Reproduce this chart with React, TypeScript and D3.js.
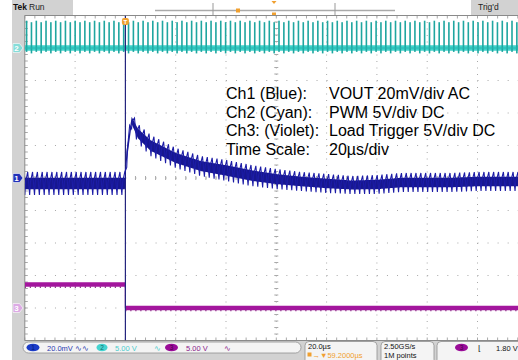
import React from "react";
import * as d3 from "d3";

// ---- data (read from the scope capture) ----
const timeDomainUs = [-40, 160]; // 10 divisions of 20 µs, trigger 2 div from left
const vertDivs = [-5, 5];
const ch1OffsetDiv = 0;
const ch2OffsetDiv = 4;
const ch3OffsetDiv = -4;
const ch1MvPerDiv = 20;
const ch2VPerDiv = 5;
const ch3VPerDiv = 5;

const ch1TimesUs = [-40, -0.2, 0.4, 2.5, 5, 10, 20, 30, 40, 50, 60, 70, 80, 90, 100, 110, 120, 130, 140, 160];
const ch1UpperMv = [3.7, 3.7, 20.3, 40.0, 33.2, 26.5, 18.5, 13.5, 11.1, 8.0, 5.5, 3.7, 2.5, 1.2, 1.8, 3.1, 3.1, 3.1, 3.7, 3.7];
const ch1LowerMv = [-10.5, -10.5, 4.9, 30.8, 21.5, 13.5, 6.2, 1.2, -1.8, -4.9, -6.8, -8.0, -9.2, -9.8, -9.8, -8.6, -8.6, -8.6, -8.0, -8.0];
const ripplePeriodUs = 1.93;

const pwmHighV = 4.2;
const pwmLowV = 0;
const pwmPeriodUs = 1.93;

const ch3TimesUs = [-40, 0, 0, 160];
const ch3Volts = [3.6, 3.6, 0, 0];

const legendLabels = ["Ch1 (Blue):", "Ch2 (Cyan):", "Ch3: (Violet):", "Time Scale:"];
const legendValues = ["VOUT 20mV/div AC", "PWM 5V/div DC", "Load Trigger 5V/div DC", "20µs/div"];

// ---- layout ----
const W = 518, H = 360;
const PL = 24.8, PT = 15.5, DW = 50.3, DH = 32.5;
const PR = PL + 10 * DW, PB = PT + 10 * DH;

const x = d3.scaleLinear().domain(timeDomainUs).range([PL, PR]);
const yDiv = d3.scaleLinear().domain(vertDivs).range([PB, PT]);
const y1 = (mv: number) => yDiv(mv / ch1MvPerDiv + ch1OffsetDiv);
const y2 = (v: number) => yDiv(v / ch2VPerDiv + ch2OffsetDiv);
const y3 = (v: number) => yDiv(v / ch3VPerDiv + ch3OffsetDiv);

const upperAt = d3.scaleLinear().domain(ch1TimesUs).range(ch1UpperMv).clamp(true);
const lowerAt = d3.scaleLinear().domain(ch1TimesUs).range(ch1LowerMv).clamp(true);

const GRAY = "#d2d2d2";
const GRID = "#a9a9a9";
const FONT = "'Liberation Sans', Arial, sans-serif";

export default function App() {
  // ripple zigzag for ch1
  const zig: [number, number][] = [];
  for (let t = timeDomainUs[0]; t <= timeDomainUs[1]; t += ripplePeriodUs) {
    zig.push([x(t), y1(lowerAt(t))]);
    const tm = t + ripplePeriodUs * 0.15;
    zig.push([x(tm), y1(lowerAt(tm) + 0.55 * (upperAt(tm) - lowerAt(tm)))]);
    const tp = t + ripplePeriodUs * 0.6;
    zig.push([x(tp), y1(upperAt(tp))]);
  }
  const zigPath = d3.line()(zig) || "";
  const coreArea = d3
    .area<number>()
    .x((t) => x(t))
    .y0((t) => {
      const u = upperAt(t), l = lowerAt(t);
      return y1(l + 0.25 * (u - l));
    })
    .y1((t) => {
      const u = upperAt(t), l = lowerAt(t);
      return y1(u - 0.25 * (u - l));
    });
  const denseT = d3.range(timeDomainUs[0], timeDomainUs[1] + 0.1, 0.25);
  denseT.push(...ch1TimesUs);
  denseT.sort((a, b) => a - b);

  // PWM pulses
  const pulses: number[] = [];
  for (let t = timeDomainUs[0] + 0.4; t <= timeDomainUs[1]; t += pwmPeriodUs) pulses.push(t);

  // ch3 levels as horizontal segments, thin edge between
  const ch3Segs: [number, number, number][] = [];
  for (let i = 0; i < ch3TimesUs.length - 1; i++) {
    if (ch3Volts[i] === ch3Volts[i + 1]) ch3Segs.push([ch3TimesUs[i], ch3TimesUs[i + 1], ch3Volts[i]]);
  }

  // grid
  const vLines = d3.range(1, 10).map((i) => PL + i * DW);
  const hLines = d3.range(1, 10).map((i) => PT + i * DH);
  const cx = PL + 5 * DW, cy = PT + 5 * DH;
  const hTicks = d3.range(0, 51).map((i) => PL + (i * DW) / 5);
  const vTicks = d3.range(0, 51).map((i) => PT + (i * DH) / 5);

  const marker = (c: number, fill: string, label: string, tc: string) => (
    <g>
      <path d={`M13,${c - 4.5} L19.5,${c - 4.5} L23,${c} L19.5,${c + 4.5} L13,${c + 4.5} Z`} fill={fill} stroke="#fff" strokeWidth={0.6} />
      <text x={16.5} y={c + 3} fontSize={8} fontFamily={FONT} fontWeight="bold" fill={tc} textAnchor="middle">{label}</text>
    </g>
  );

  return (
    <svg width={W} height={H} style={{ position: "absolute", left: 0, top: 0, background: "#fff" }}>
      <defs>
        <clipPath id="plot">
          <rect x={PL} y={PT} width={PR - PL} height={PB - PT} />
        </clipPath>
      </defs>
      {/* frame backgrounds */}
      <rect x={12} y={0} width={W - 12} height={H} fill={GRAY} />
      <rect x={73} y={0} width={398} height={PT} fill="#fff" />
      <rect x={PL} y={PT} width={W - PL} height={PB - PT} fill="#fff" />

      {/* top bar */}
      <text x={13} y={10} fontSize={8.5} fontFamily={FONT} fontWeight="bold" fill="#111">Tek</text>
      <text x={29} y={10} fontSize={8.5} fontFamily={FONT} fill="#222">Run</text>
      <text x={478} y={10} fontSize={8.5} fontFamily={FONT} fill="#222">Trig'd</text>
      <line x1={155} x2={395} y1={10.5} y2={10.5} stroke="#aaa" strokeWidth={1.6} />
      <line x1={213} x2={213} y1={3} y2={15} stroke="#999" strokeWidth={1} />
      <line x1={335} x2={335} y1={3} y2={15} stroke="#999" strokeWidth={1} />
      <rect x={236} y={8.5} width={4} height={4} fill="#f0a030" />
      <path d="M271.5,1 L276.5,1 L274,4 Z" fill="#f0a030" />
      <rect x={272} y={12.5} width={4} height={3} fill="#f0a030" />

      {/* grid */}
      <g stroke={GRID} strokeWidth={1}>
        {hLines.map((yy, i) => (
          <line key={"h" + i} x1={PL} x2={W} y1={yy} y2={yy} strokeDasharray={`1 ${DW / 5 - 1}`} />
        ))}
        {vLines.map((xx, i) => (
          <line key={"v" + i} x1={xx} x2={xx} y1={PT} y2={PB} strokeDasharray={`1 ${DH / 5 - 1}`} />
        ))}
        {hTicks.map((xx, i) => (
          <g key={"ht" + i}>
            <line x1={xx} x2={xx} y1={cy - 2} y2={cy + 2} />
            <line x1={xx} x2={xx} y1={PT} y2={PT + 3} />
            <line x1={xx} x2={xx} y1={PB - 3} y2={PB} />
          </g>
        ))}
        {vTicks.map((yy, i) => (
          <g key={"vt" + i}>
            <line x1={cx - 2} x2={cx + 2} y1={yy} y2={yy} />
            <line x1={PL} x2={PL + 3} y1={yy} y2={yy} />
          </g>
        ))}
      </g>
      <line x1={PL} x2={PL} y1={PT} y2={PB} stroke="#8a8a8a" strokeWidth={1} />
      <line x1={PL} x2={W} y1={PT} y2={PT} stroke="#8a8a8a" strokeWidth={1} />
      <line x1={PL} x2={W} y1={PB} y2={PB} stroke="#8a8a8a" strokeWidth={1} />

      <g clipPath="url(#plot)">
        {/* ch2 PWM */}
        <line x1={PL} x2={PR} y1={y2(pwmLowV)} y2={y2(pwmLowV)} stroke="#3fd3cb" strokeWidth={5.5} />
        {pulses.map((t, i) => (
          <rect key={i} x={x(t)} y={y2(pwmHighV) + (i % 2 ? 1.5 : 0)} width={1.6} height={y2(pwmLowV - 0.6) - y2(pwmHighV)} fill="#1fa6a0" />
        ))}
        <line x1={PL} x2={PR} y1={y2(pwmLowV)} y2={y2(pwmLowV)} stroke="#27b6b0" strokeWidth={1} />

        {/* ch3 load trigger */}
        {ch3Segs.map(([a, b, v], i) => (
          <g key={"c3" + i}>
            <line x1={x(a)} x2={x(b)} y1={y3(v)} y2={y3(v)} stroke="#a3169d" strokeWidth={4.5} />
            <line x1={x(a)} x2={x(b)} y1={y3(v) + 2.6} y2={y3(v) + 2.6} stroke="#7a0c76" strokeWidth={1.4} strokeDasharray="1 4" />
          </g>
        ))}
        <line x1={x(0)} x2={x(0)} y1={y3(ch3Volts[1])} y2={y3(ch3Volts[2])} stroke="#a3169d" strokeWidth={1.2} />

        {/* trigger time line */}
        <line x1={x(0)} x2={x(0)} y1={PT} y2={PB} stroke="#25257e" strokeWidth={1.2} />

        {/* ch1 VOUT */}
        <path d={coreArea(denseT) || ""} fill="#17178f" />
        <path d={zigPath} fill="none" stroke="#1c1ca6" strokeWidth={1.1} />
      </g>

      {/* trigger marker */}
      <rect x={x(0) - 3.5} y={18} width={7} height={7} rx={2} fill="#f0a030" />
      <text x={x(0)} y={24} fontSize={6} fontFamily={FONT} fill="#fff" textAnchor="middle" fontWeight="bold">T</text>

      {/* channel markers */}
      {marker(y2(0), "#86dcd8", "2", "#fff")}
      {marker(y1(0), "#2231b8", "1", "#fff")}
      {marker(y3(0), "#dcaae4", "3", "#fff")}

      {/* annotation */}
      <g fontFamily={FONT} fontSize={16} fill="#000">
        {legendLabels.map((s, i) => (
          <text key={"l" + i} x={226} y={99 + i * 18.5}>{s}</text>
        ))}
        {legendValues.map((s, i) => (
          <text key={"v" + i} x={329} y={99 + i * 18.5}>{s}</text>
        ))}
      </g>

      {/* status bar */}
      <g fontFamily={FONT} fontSize={7.5}>
        <rect x={23} y={342} width={278} height={11} rx={5.5} fill="#f4f4f4" stroke="#8f8f8f" strokeWidth={0.8} />
        <ellipse cx={33} cy={347.5} rx={6.5} ry={3.8} fill="#1b3bc6" />
        <text x={33} y={350} fontSize={6.5} textAnchor="middle" fill="#001a80">1</text>
        <text x={47} y={350.5} fill="#2a3ab0">20.0mV</text>
        <text x={75} y={350.5} fill="#2a3ab0">∿∿</text>
        <ellipse cx={102} cy={347.5} rx={5.5} ry={3.8} fill="#45d3d0" />
        <text x={102} y={350} fontSize={6.5} textAnchor="middle" fill="#0d6f6c">2</text>
        <text x={115} y={350.5} fill="#4ccccc">5.00 V</text>
        <text x={154} y={350.5} fill="#4ccccc">∿</text>
        <ellipse cx={171.5} cy={347.5} rx={6.5} ry={3.8} fill="#9a0c98" />
        <text x={171.5} y={350} fontSize={6.5} textAnchor="middle" fill="#4a004a">3</text>
        <text x={186} y={350.5} fill="#8a1a8a">5.00 V</text>
        <text x={224} y={350.5} fill="#8a1a8a">∿</text>

        <rect x={305} y={341.5} width={72} height={22} rx={4} fill="#f4f4f4" stroke="#8f8f8f" strokeWidth={0.8} />
        <text x={308} y={349} fill="#111">20.0µs</text>
        <rect x={307.5} y={352.5} width={4} height={4} fill="#f0a030" />
        <text x={312.5} y={358} fill="#f0a030">→▼59.2000µs</text>

        <rect x={381} y={341.5} width={53} height={22} rx={4} fill="#f4f4f4" stroke="#8f8f8f" strokeWidth={0.8} />
        <text x={384} y={349} fill="#111">2.50GS/s</text>
        <text x={384} y={358} fill="#111">1M points</text>

        <rect x={437} y={341.5} width={90} height={22} rx={4} fill="#f4f4f4" stroke="#8f8f8f" strokeWidth={0.8} />
        <ellipse cx={461.5} cy={347.5} rx={6.5} ry={3.8} fill="#9a0c98" />
        <text x={461.5} y={350} fontSize={6.5} textAnchor="middle" fill="#4a004a">3</text>
        <text x={478} y={350.5} fill="#111">⌊</text>
        <text x={496} y={350.5} fill="#111">1.80 V</text>
      </g>
    </svg>
  );
}
